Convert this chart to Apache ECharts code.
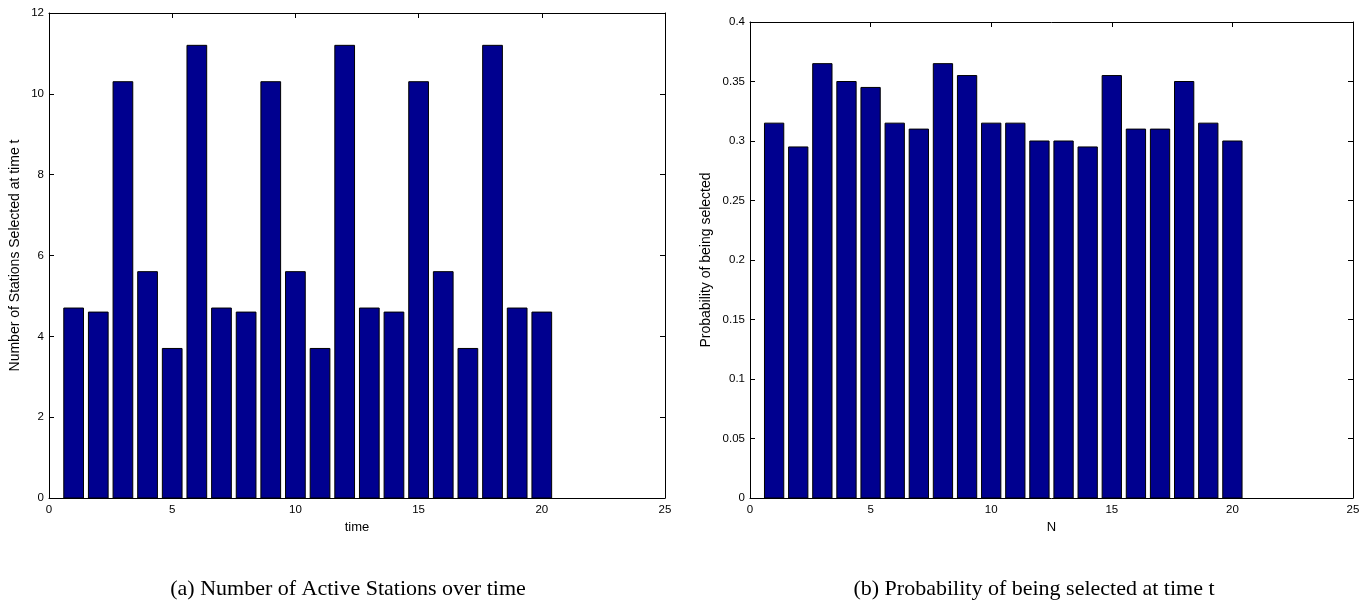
<!DOCTYPE html>
<html>
<head>
<meta charset="utf-8">
<script src="https://cdn.jsdelivr.net/npm/echarts@6/dist/echarts.min.js"></script>
<style>
html,body{margin:0;padding:0;background:#fff;}
#c{width:1369px;height:601px;}
</style>
</head>
<body>
<div id="c"></div>
<script>
// ---- data ----
var timeSteps = [1,2,3,4,5,6,7,8,9,10,11,12,13,14,15,16,17,18,19,20];
var stationsSelected = [4.7,4.6,10.3,5.6,3.7,11.2,4.7,4.6,10.3,5.6,3.7,11.2,4.7,4.6,10.3,5.6,3.7,11.2,4.7,4.6];
var nValues = [1,2,3,4,5,6,7,8,9,10,11,12,13,14,15,16,17,18,19,20];
var probSelected = [0.315,0.295,0.365,0.35,0.345,0.315,0.31,0.365,0.355,0.315,0.315,0.30,0.30,0.295,0.355,0.31,0.31,0.35,0.315,0.30];
var leftYLabel = 'Number of Stations Selected at time t';
var leftXLabel = 'time';
var rightYLabel = 'Probability of being selected';
var rightXLabel = 'N';
var captionA = '(a) Number of Active Stations over time';
var captionB = '(b) Probability of being selected at time t';

var BAR_HALF = 0.4;
var sans = '"Liberation Sans", Arial, Helvetica, sans-serif';
var serif = '"Liberation Serif", "Times New Roman", serif';

function pair(xs, ys){ return xs.map(function(x,i){ return [x, ys[i]]; }); }

function renderBar(params, api){
  var x = api.value(0), v = api.value(1);
  var p1 = api.coord([x - BAR_HALF, v]);
  var p2 = api.coord([x + BAR_HALF, 0]);
  return {
    type: 'rect',
    shape: { x: p1[0], y: p1[1], width: p2[0] - p1[0], height: p2[1] - p1[1] },
    style: { fill: '#00008F', stroke: '#000000', lineWidth: 1 }
  };
}

function mainX(gi, name){
  return {
    type: 'value', gridIndex: gi, min: 0, max: 25, interval: 5, position: 'bottom',
    name: name, nameLocation: 'middle', nameGap: 23,
    nameTextStyle: { fontFamily: sans, fontSize: 13, color: '#000' },
    axisLine: { show: true, onZero: false, lineStyle: { color: '#000', width: 1 } },
    axisTick: { show: true, inside: true, length: 5, lineStyle: { color: '#000' } },
    axisLabel: { fontFamily: sans, fontSize: 11.5, color: '#000', margin: 6 },
    splitLine: { show: false }
  };
}
function topX(gi){
  return {
    type: 'value', gridIndex: gi, min: 0, max: 25, interval: 5, position: 'top',
    axisLine: { show: true, onZero: false, lineStyle: { color: '#000', width: 1 } },
    axisTick: { show: true, inside: true, length: 5, lineStyle: { color: '#000' } },
    axisLabel: { show: false }, splitLine: { show: false }
  };
}
function mainY(gi, max, interval, name, gap){
  return {
    type: 'value', gridIndex: gi, min: 0, max: max, interval: interval, position: 'left',
    name: name, nameLocation: 'middle', nameGap: gap, nameRotate: 90,
    nameTextStyle: { fontFamily: sans, fontSize: 14, color: '#000' },
    axisLine: { show: true, onZero: false, lineStyle: { color: '#000', width: 1 } },
    axisTick: { show: true, inside: true, length: 5, lineStyle: { color: '#000' } },
    axisLabel: { fontFamily: sans, fontSize: 11.5, color: '#000', margin: 5 },
    splitLine: { show: false }
  };
}
function rightY(gi, max, interval){
  return {
    type: 'value', gridIndex: gi, min: 0, max: max, interval: interval, position: 'right',
    axisLine: { show: true, onZero: false, lineStyle: { color: '#000', width: 1 } },
    axisTick: { show: true, inside: true, length: 5, lineStyle: { color: '#000' } },
    axisLabel: { show: false }, splitLine: { show: false }
  };
}

var chart = echarts.init(document.getElementById('c'), null, { renderer: 'canvas' });
chart.setOption({
  animation: false,
  backgroundColor: '#ffffff',
  grid: [
    { left: 49, top: 13, width: 616, height: 485 },
    { left: 750, top: 22, width: 603, height: 476 }
  ],
  xAxis: [ mainX(0, leftXLabel), topX(0), mainX(1, rightXLabel), topX(1) ],
  yAxis: [ mainY(0, 12, 2, leftYLabel, 27), rightY(0, 12, 2), mainY(1, 0.4, 0.05, rightYLabel, 37), rightY(1, 0.4, 0.05) ],
  series: [
    { type: 'custom', xAxisIndex: 0, yAxisIndex: 0, renderItem: renderBar, data: pair(timeSteps, stationsSelected), encode: { x: 0, y: 1 } },
    { type: 'custom', xAxisIndex: 2, yAxisIndex: 2, renderItem: renderBar, data: pair(nValues, probSelected), encode: { x: 0, y: 1 } }
  ],
  graphic: [
    { type: 'text', x: 348, y: 589, style: { text: captionA, font: '22px ' + serif, fill: '#000', align: 'center', verticalAlign: 'middle' } },
    { type: 'text', x: 1034, y: 589, style: { text: captionB, font: '22px ' + serif, fill: '#000', align: 'center', verticalAlign: 'middle' } }
  ]
});
</script>
</body>
</html>
